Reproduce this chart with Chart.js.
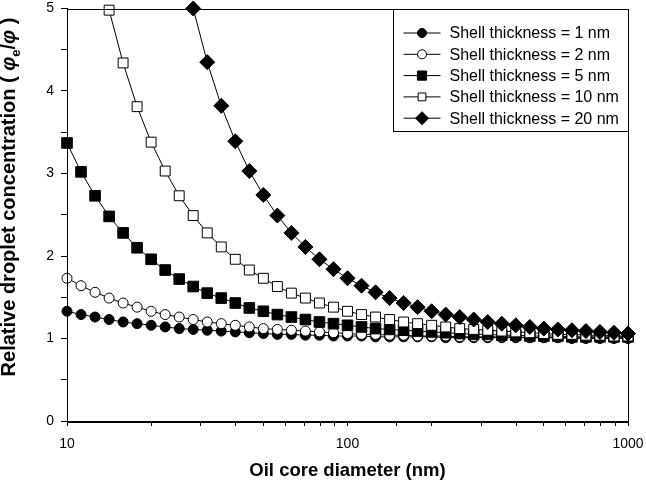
<!DOCTYPE html>
<html lang="en">
<head>
<meta charset="UTF-8">
<title>Relative droplet concentration</title>
<script src="https://cdn.jsdelivr.net/npm/chart.js"></script>
<style>
  html, body { margin: 0; padding: 0; background: #fff; }
</style>
</head>
<body>
<canvas id="chart" width="646" height="494"></canvas>
<script>
// oil core diameters (nm), evenly spaced on the log axis
const diameters = [10, 11.22, 12.59, 14.13, 15.85, 17.78, 19.95, 22.39, 25.12, 28.18,
  31.62, 35.48, 39.81, 44.67, 50.12, 56.23, 63.1, 70.79, 79.43, 89.13,
  100, 112.2, 125.9, 141.3, 158.5, 177.8, 199.5, 223.9, 251.2, 281.8,
  316.2, 354.8, 398.1, 446.7, 501.2, 562.3, 631, 707.9, 794.3, 891.3, 1000];

const shell1 = [1.33, 1.29, 1.26, 1.23, 1.20, 1.18, 1.16, 1.14, 1.12, 1.11,
  1.10, 1.09, 1.08, 1.07, 1.06, 1.05, 1.05, 1.04, 1.04, 1.03,
  1.03, 1.03, 1.02, 1.02, 1.02, 1.02, 1.02, 1.01, 1.01, 1.01,
  1.01, 1.01, 1.01, 1.01, 1.01, 1.01, 1.00, 1.00, 1.00, 1.00, 1.00];
const shell2 = [1.73, 1.64, 1.56, 1.49, 1.43, 1.38, 1.33, 1.29, 1.26, 1.23,
  1.20, 1.18, 1.16, 1.14, 1.12, 1.11, 1.10, 1.09, 1.08, 1.07,
  1.06, 1.05, 1.05, 1.04, 1.04, 1.03, 1.03, 1.03, 1.02, 1.02,
  1.02, 1.02, 1.02, 1.01, 1.01, 1.01, 1.01, 1.01, 1.01, 1.01, 1.01];
const shell5 = [3.37, 3.02, 2.73, 2.48, 2.28, 2.10, 1.96, 1.83, 1.72, 1.63,
  1.55, 1.49, 1.43, 1.37, 1.33, 1.29, 1.26, 1.23, 1.20, 1.18,
  1.16, 1.14, 1.12, 1.11, 1.10, 1.09, 1.08, 1.07, 1.06, 1.05,
  1.05, 1.04, 1.04, 1.03, 1.03, 1.03, 1.02, 1.02, 1.02, 1.02, 1.02];
const shell10 = [null, null, null, 4.98, 4.34, 3.81, 3.38, 3.03, 2.73, 2.49,
  2.28, 2.11, 1.96, 1.83, 1.73, 1.63, 1.55, 1.49, 1.43, 1.38,
  1.33, 1.29, 1.26, 1.23, 1.20, 1.18, 1.16, 1.14, 1.12, 1.11,
  1.10, 1.09, 1.08, 1.07, 1.06, 1.05, 1.05, 1.04, 1.04, 1.03, 1.03];
const shell20 = [null, null, null, null, null, null, null, null, null, 5.00,
  4.35, 3.82, 3.39, 3.03, 2.74, 2.49, 2.28, 2.11, 1.96, 1.84,
  1.73, 1.64, 1.56, 1.49, 1.43, 1.38, 1.33, 1.29, 1.26, 1.23,
  1.20, 1.18, 1.16, 1.14, 1.12, 1.11, 1.10, 1.09, 1.08, 1.07, 1.06];

const seriesLabels = ['Shell thickness = 1 nm', 'Shell thickness = 2 nm', 'Shell thickness = 5 nm',
  'Shell thickness = 10 nm', 'Shell thickness = 20 nm'];
const xTickLabels = [10, 100, 1000];
const yTickLabels = [0, 1, 2, 3, 4, 5];
const xTitle = 'Oil core diameter (nm)';
const yTitleParts = ['Relative droplet concentration ( ', '\u03c6', 'e', '/', '\u03c6', ' )'];

const FONT = '"Liberation Sans", Arial, sans-serif';

function points(vals) {
  return diameters.map((d, i) => ({ x: d, y: vals[i] })).filter(p => p.y !== null);
}

const styles = [
  { pointStyle: 'circle', radius: 5, fill: '#000', legendRadius: 4.5 },
  { pointStyle: 'circle', radius: 5, fill: '#fff', legendRadius: 4.5 },
  { pointStyle: 'rect', radius: 7.5, fill: '#000', legendRadius: 6.5 },
  { pointStyle: 'rect', radius: 7, fill: '#fff', legendRadius: 5.5 },
  { pointStyle: 'rectRot', radius: 7.5, fill: '#000', legendRadius: 6.5 }
];
const allSeries = [shell1, shell2, shell5, shell10, shell20];

const datasets = allSeries.map((vals, i) => ({
  label: seriesLabels[i],
  data: points(vals),
  borderColor: '#000',
  borderWidth: 1,
  pointStyle: styles[i].pointStyle,
  pointRadius: styles[i].radius,
  pointHoverRadius: styles[i].radius,
  pointBackgroundColor: styles[i].fill,
  pointBorderColor: '#000',
  pointBorderWidth: 1,
  order: allSeries.length - i,
  clip: false
}));

// frame + boxed legend in the top-right corner
const boxLegend = {
  id: 'boxLegend',
  afterDraw(chart) {
    const ctx = chart.ctx;
    const a = chart.chartArea;
    ctx.save();
    ctx.strokeStyle = '#000';
    ctx.lineWidth = 1;
    ctx.strokeRect(Math.round(a.left) + 0.5, Math.round(a.top) + 0.5,
      Math.round(a.right - a.left), Math.round(a.bottom - a.top));

    const bx = Math.round(a.right) - 235 + 0.5;
    const by = Math.round(a.top) + 0.5;
    ctx.fillStyle = '#fff';
    ctx.fillRect(bx, by, 235, 122);
    ctx.strokeRect(bx, by, 235, 122);

    ctx.font = '16px ' + FONT;
    ctx.textBaseline = 'middle';
    ctx.textAlign = 'left';
    seriesLabels.forEach((label, i) => {
      const y = Math.round(a.top) + 24 + i * 21.3;
      ctx.strokeStyle = '#000';
      ctx.beginPath();
      ctx.moveTo(bx + 10, y);
      ctx.lineTo(bx + 47, y);
      ctx.stroke();
      ctx.fillStyle = styles[i].fill;
      Chart.helpers.drawPoint(ctx, {
        pointStyle: styles[i].pointStyle,
        radius: styles[i].legendRadius,
        rotation: 0,
        borderWidth: 1
      }, bx + 28.5, y);
      ctx.fillStyle = '#000';
      ctx.fillText(label, bx + 56, y + 1);
    });
    ctx.restore();
  }
};

// rotated y title with a subscript
const yTitlePlugin = {
  id: 'yTitle',
  afterDraw(chart) {
    const ctx = chart.ctx;
    const fonts = ['bold 20px ' + FONT, 'italic bold 20px ' + FONT, 'bold 13px ' + FONT,
      'bold 20px ' + FONT, 'italic bold 20px ' + FONT, 'bold 20px ' + FONT];
    const shifts = [0, 0, 5, 0, 0, 0];
    ctx.save();
    const widths = yTitleParts.map((t, i) => { ctx.font = fonts[i]; return ctx.measureText(t).width; });
    const total = widths.reduce((s, w) => s + w, 0);
    ctx.translate(15, 197);
    ctx.rotate(-Math.PI / 2);
    ctx.fillStyle = '#000';
    ctx.textAlign = 'left';
    ctx.textBaseline = 'alphabetic';
    let x = -total / 2;
    yTitleParts.forEach((t, i) => {
      ctx.font = fonts[i];
      ctx.fillText(t, x, shifts[i]);
      x += widths[i];
    });
    ctx.restore();
  }
};

new Chart(document.getElementById('chart'), {
  type: 'line',
  data: { datasets },
  plugins: [boxLegend, yTitlePlugin],
  options: {
    responsive: false,
    animation: false,
    events: [],
    layout: { padding: { top: 7, right: 18, left: 0, bottom: 0 } },
    plugins: { legend: { display: false }, tooltip: { enabled: false } },
    scales: {
      x: {
        type: 'logarithmic',
        min: 10,
        max: 1000,
        afterFit: s => { s.height = 73; s.paddingLeft = 0; s.paddingRight = 0; },
        border: { display: true, color: '#000', width: 1 },
        grid: { display: true, drawOnChartArea: false, drawTicks: true, tickLength: 5, tickColor: '#000', color: '#000' },
        ticks: {
          autoSkip: false,
          maxRotation: 0,
          padding: 10,
          color: '#000',
          font: { family: FONT, size: 14 },
          callback: v => xTickLabels.includes(v) ? String(v) : ''
        },
        title: {
          display: true,
          text: xTitle,
          color: '#000',
          font: { family: FONT, size: 18.5, weight: 'bold' },
          padding: { top: 0, bottom: 12 }
        }
      },
      y: {
        type: 'linear',
        min: 0,
        max: 5,
        afterFit: s => { s.width = 67; s.paddingTop = 0; s.paddingBottom = 0; },
        border: { display: true, color: '#000', width: 1 },
        grid: { display: true, drawOnChartArea: false, drawTicks: true, tickLength: 6, tickColor: '#000', color: '#000' },
        ticks: {
          stepSize: 0.5,
          autoSkip: false,
          padding: 7,
          color: '#000',
          font: { family: FONT, size: 14 },
          callback: v => yTickLabels.includes(v) ? String(v) : ''
        }
      }
    }
  }
});
</script>
</body>
</html>
